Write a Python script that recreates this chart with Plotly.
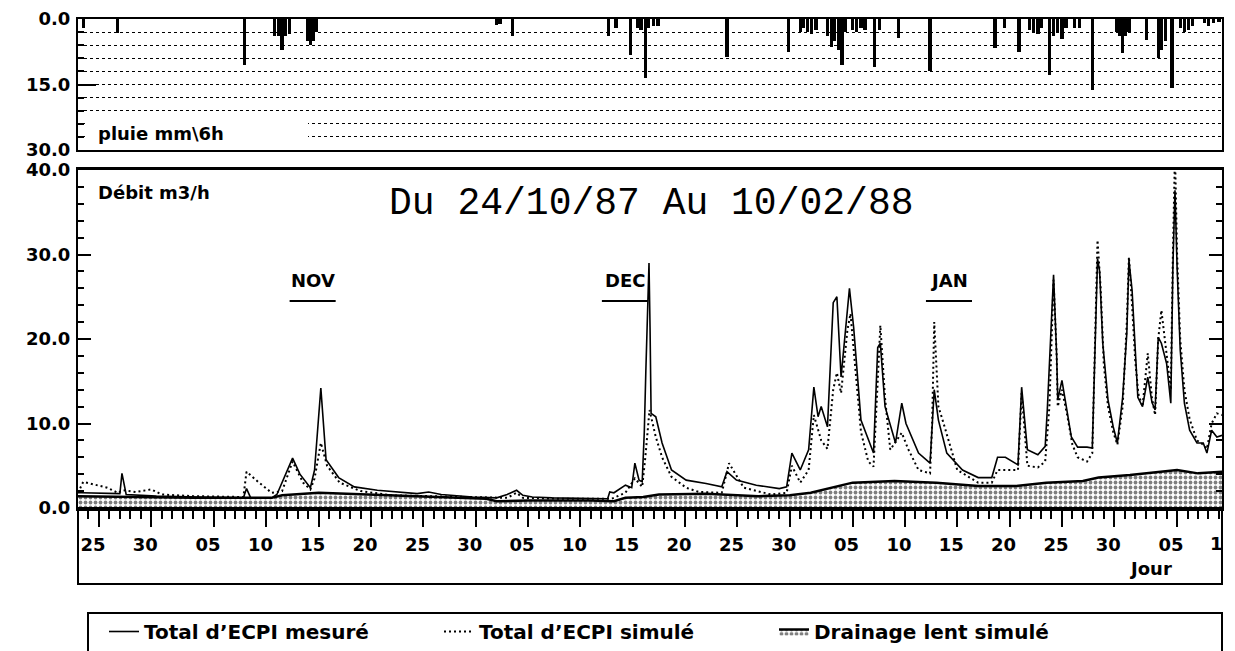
import pandas as pd
import plotly.graph_objects as go

# ---------------- DATA (jours depuis le 24/10/87 00:00) ----------------
DEBUT = pd.Timestamp("1987-10-24")

jours_mesure = [-1.0, -0.7, 3.0, 3.2, 3.6, 6.5, 10.5, 14.8, 15.1, 15.5, 17.5, 18.0, 19.5, 20.2, 21.2, 21.6, 22.2, 22.7,
                23.9, 25.4, 27.6, 29.2, 31.4, 32.5, 33.7, 36.7, 39.0, 40.0, 40.9, 41.5, 42.4, 44.3, 49.6, 49.8, 50.2,
                51.3, 51.9, 52.2, 52.6, 52.9, 53.1, 53.25, 53.55, 53.65, 53.75, 54.2, 54.8, 55.7, 57.1, 59.0, 60.5,
                61.0, 61.9, 63.8, 66.0, 66.7, 67.2, 68.0, 68.8, 69.3, 69.7, 70.0, 70.6, 71.15, 71.5, 71.9, 72.7, 73.1,
                73.8, 75.0, 75.4, 75.65, 76.1, 77.1, 77.7, 78.1, 79.3, 80.4, 80.8, 81.2, 82.0, 83.5, 85.0, 86.3, 86.85,
                87.6, 88.8, 89.15, 89.7, 90.7, 91.4, 91.6, 92.0, 92.2, 92.5, 92.6, 93.0, 93.45, 93.9, 94.5, 95.4, 95.9,
                96.05, 96.25, 96.4, 96.6, 96.9, 97.4, 97.9, 98.3, 98.8, 99.2, 99.4, 99.7, 100.0, 100.25, 100.7, 101.2,
                101.6, 101.9, 102.2, 102.5, 103.0, 103.4, 103.6, 103.8, 104.0, 104.3, 104.7, 105.2, 105.9, 106.5,
                106.85, 107.3, 107.8, 108.3]
debit_mesure = [1.8, 1.8, 1.7, 4.1, 1.6, 1.4, 1.3, 1.2, 2.3, 1.2, 1.2, 1.6, 5.9, 4.0, 2.4, 4.5, 14.2, 5.7, 3.6, 2.5,
                2.1, 1.9, 1.7, 1.9, 1.6, 1.3, 1.2, 1.6, 2.1, 1.5, 1.3, 1.2, 1.1, 1.9, 1.8, 2.7, 2.4, 5.3, 3.3, 3.1,
                9.0, 16.3, 29.0, 21.4, 11.2, 10.8, 7.7, 4.5, 3.3, 2.9, 2.5, 4.3, 3.3, 2.7, 2.3, 2.5, 6.5, 4.5, 6.9,
                14.3, 10.8, 12.0, 9.6, 24.3, 25.0, 15.5, 26.0, 21.4, 10.4, 6.5, 19.0, 19.5, 12.0, 7.7, 12.4, 10.0,
                6.5, 5.3, 14.0, 10.4, 6.5, 4.5, 3.6, 3.6, 6.0, 6.0, 5.1, 14.3, 6.9, 6.3, 7.3, 11.6, 23.4, 27.6, 17.9,
                12.8, 15.1, 12.0, 8.4, 7.2, 7.2, 7.1, 14.8, 24.6, 29.5, 28.0, 19.5, 12.8, 9.6, 7.7, 13.1, 20.7, 29.3,
                25.8, 18.7, 13.1, 12.0, 15.5, 12.5, 11.6, 20.2, 19.5, 17.1, 12.4, 28.5, 37.6, 28.5, 18.7, 12.4, 9.2,
                7.7, 7.7, 6.5, 9.2, 8.4, 8.6]

jours_simule = [-1.0, -0.5, 1.8, 2.8, 3.3, 4.5, 6.0, 7.0, 10.0, 14.8, 15.1, 16.2, 17.5, 18.5, 19.5, 20.5, 21.2, 21.6,
                22.2, 22.8, 24.0, 26.0, 29.0, 35.0, 40.0, 40.9, 41.5, 45.0, 50.0, 51.3, 52.2, 52.9, 53.2, 53.6, 54.2,
                54.8, 55.7, 57.1, 58.3, 60.5, 61.2, 62.6, 65.2, 66.7, 67.2, 68.0, 68.8, 69.3, 70.0, 70.6, 71.15, 71.5,
                71.9, 72.5, 72.8, 73.3, 73.8, 74.5, 75.0, 75.4, 75.65, 76.1, 76.6, 77.7, 78.3, 79.3, 80.4, 80.6, 80.8,
                81.2, 81.6, 83.0, 85.0, 86.3, 86.85, 88.8, 89.15, 89.7, 90.7, 91.4, 91.8, 92.2, 92.5, 92.6, 93.0, 93.5,
                94.0, 94.5, 95.4, 95.9, 96.1, 96.4, 96.7, 97.0, 97.4, 97.9, 98.3, 98.8, 99.2, 99.4, 99.7, 100.0, 100.3,
                100.7, 101.2, 101.6, 101.9, 102.2, 102.5, 103.0, 103.4, 103.6, 103.8, 104.0, 104.3, 104.7, 105.2,
                105.9, 106.5, 106.85, 107.3, 107.8, 108.3]
debit_simule = [1.8, 3.1, 2.4, 1.8, 2.1, 1.9, 2.2, 1.6, 1.4, 1.3, 4.3, 3.1, 1.8, 2.0, 5.5, 3.0, 2.2, 3.5, 7.7, 5.0,
                3.0, 2.0, 1.5, 1.3, 1.2, 1.8, 1.2, 1.1, 1.1, 1.8, 3.5, 2.5, 6.0, 11.6, 8.4, 6.0, 3.7, 2.4, 1.9, 1.8,
                5.3, 2.4, 1.6, 1.8, 5.0, 3.0, 4.5, 11.0, 8.0, 7.0, 14.0, 16.0, 13.6, 21.0, 23.0, 16.0, 9.0, 5.5, 4.9,
                15.0, 21.6, 13.0, 6.9, 8.9, 7.0, 4.5, 4.1, 10.0, 22.0, 12.0, 10.4, 4.5, 3.0, 3.0, 4.5, 4.5, 13.6, 5.0,
                4.8, 5.5, 12.0, 27.0, 18.0, 12.0, 14.0, 11.0, 7.5, 6.0, 5.5, 6.5, 18.0, 31.7, 26.0, 17.0, 12.0, 9.0,
                7.5, 12.0, 22.0, 29.7, 24.0, 17.5, 13.5, 12.0, 18.3, 13.0, 11.0, 20.0, 23.4, 18.0, 14.0, 30.0, 42.0,
                30.0, 20.0, 14.0, 10.5, 8.0, 7.5, 7.0, 10.0, 11.2, 11.0]

jours_drainage = [-1.0, 3.0, 10.0, 17.5, 18.5, 22.0, 27.0, 32.0, 38.0, 39.0, 42.0, 48.0, 50.2, 51.3, 53.0, 54.5,
                  59.0, 64.0, 67.0, 69.0, 71.0, 73.0, 77.0, 81.0, 85.0, 88.5, 91.5, 95.0, 96.5, 99.5, 104.0, 106.0,
                  108.3]
debit_drainage = [1.4, 1.3, 1.2, 1.2, 1.5, 1.8, 1.6, 1.4, 1.1, 0.8, 0.9, 0.9, 0.8, 1.2, 1.3, 1.6, 1.7, 1.4, 1.5,
                  1.8, 2.4, 3.0, 3.2, 3.0, 2.6, 2.6, 3.0, 3.2, 3.6, 3.9, 4.5, 4.1, 4.3]

jours_pluie = [-0.45, 2.8, 14.9, 17.8, 18.2, 18.5, 18.8, 19.2, 20.9, 21.2, 21.5, 21.8, 39.0, 39.3, 40.5, 49.7, 50.4,
               51.8, 52.5, 52.8, 53.2, 53.45, 54.0, 54.4, 61.0, 66.9, 68.0, 68.3, 68.7, 69.1, 69.5, 70.6, 71.0, 71.3,
               71.7, 72.0, 72.3, 73.0, 73.4, 73.8, 74.2, 75.1, 75.6, 77.4, 80.4, 86.6, 87.5, 88.9, 89.9, 90.3, 90.7,
               91.0, 91.8, 92.2, 92.6, 93.0, 93.4, 94.2, 94.7, 95.9, 98.2, 98.5, 98.8, 99.1, 99.4, 101.1, 102.2,
               102.5, 102.9, 103.5, 104.3, 104.7, 105.1, 105.5, 106.6, 107.0, 107.5, 108.0]
pluie = [2.0, 3.2, 10.5, 4.0, 4.0, 7.0, 4.0, 3.5, 5.0, 6.0, 5.0, 3.0, 1.4, 1.2, 4.0, 4.0, 2.0, 8.2, 2.0, 2.5, 13.5,
         2.0, 1.5, 1.5, 8.6, 7.5, 3.0, 2.0, 3.0, 3.5, 2.5, 4.0, 6.3, 5.0, 7.0, 10.5, 3.0, 2.5, 3.0, 2.0, 2.5, 11.0,
         2.5, 4.4, 12.0, 6.7, 2.0, 7.5, 2.5, 3.0, 3.5, 2.0, 12.8, 4.0, 3.0, 4.5, 2.0, 2.0, 2.0, 16.2, 3.0, 4.0, 7.8,
         4.0, 3.0, 4.8, 9.0, 7.0, 5.0, 15.8, 2.0, 3.0, 2.5, 1.5, 1.0, 1.5, 1.0, 0.8]

tick_dates = ["1987-10-25", "1987-10-30", "1987-11-05", "1987-11-10", "1987-11-15", "1987-11-20", "1987-11-25",
              "1987-11-30", "1987-12-05", "1987-12-10", "1987-12-15", "1987-12-20", "1987-12-25", "1987-12-30",
              "1988-01-05", "1988-01-10", "1988-01-15", "1988-01-20", "1988-01-25", "1988-01-30", "1988-02-05"]
tick_labels = ["25", "30", "05", "10", "15", "20", "25", "30", "05", "10", "15", "20", "25", "30",
               "05", "10", "15", "20", "25", "30", "05"]

mois_labels = ["NOV", "DEC", "JAN"]
mois_centres = ["1987-11-14 10:00", "1987-12-14 06:00", "1988-01-14 05:00"]

titre = "Du 24/10/87 Au 10/02/88"
x_debut, x_fin = "1987-10-23 00:00", "1988-02-09 07:00"

assert len(jours_mesure) == len(debit_mesure)
assert len(jours_simule) == len(debit_simule)
assert len(jours_drainage) == len(debit_drainage)
assert len(jours_pluie) == len(pluie)


def dates(j):
    return [DEBUT + pd.Timedelta(days=d) for d in j]


BOLD = dict(family="DejaVu Sans", size=18, color="black", weight="bold")
DAY_MS = 86400000

fig = go.Figure()

fig.add_trace(go.Scatter(
    x=dates(jours_drainage), y=debit_drainage, name="Drainage lent simulé",
    mode="lines", line=dict(color="black", width=2.5), fill="tozeroy",
    fillcolor="white",
    fillpattern=dict(shape=".", fgcolor="black", bgcolor="white", size=5, solidity=0.45),
    xaxis="x", yaxis="y"))
fig.add_trace(go.Scatter(
    x=dates(jours_simule), y=debit_simule, name="Total d’ECPI simulé",
    mode="lines", line=dict(color="black", width=2, dash="2px,3px"),
    xaxis="x", yaxis="y"))
fig.add_trace(go.Scatter(
    x=dates(jours_mesure), y=debit_mesure, name="Total d’ECPI mesuré",
    mode="lines", line=dict(color="black", width=1.6),
    xaxis="x", yaxis="y"))
fig.add_trace(go.Bar(
    x=dates(jours_pluie), y=pluie, width=0.32 * DAY_MS, marker=dict(color="black", line=dict(width=0)),
    showlegend=False, xaxis="x2", yaxis="y2"))

# geometry (paper fractions)
H_PAPER = 565.0
main_dom = [(584 - 508) / H_PAPER, (584 - 170) / H_PAPER]
rain_dom = [(584 - 150) / H_PAPER, 1.0]

fig.update_layout(
    width=1235, height=651,
    margin=dict(l=78, r=13, t=19, b=67, autoexpand=False),
    paper_bgcolor="white", plot_bgcolor="white",
    font=BOLD,
    bargap=0,
    xaxis=dict(
        domain=[0, 1], anchor="y", type="date", range=[x_debut, x_fin],
        tickmode="array", tickvals=tick_dates, ticktext=tick_labels,
        ticks="outside", ticklen=16, tickwidth=2, tickcolor="black",
        minor=dict(ticks="outside", ticklen=8, tickwidth=1.5, tickcolor="black",
                   dtick=DAY_MS, tick0="1987-10-24", showgrid=False),
        showline=True, linewidth=2.5, linecolor="black", mirror=True,
        showgrid=False, zeroline=False, tickfont=BOLD,
        ticklabelshift=-6, ticklabelstandoff=3,
    ),
    yaxis=dict(
        domain=main_dom, anchor="x", range=[0, 40],
        tickmode="linear", tick0=0, dtick=10, tickformat=".1f",
        ticks="inside", ticklen=13, tickwidth=2, tickcolor="black",
        minor=dict(ticks="inside", ticklen=6, tickwidth=1.5, tickcolor="black", dtick=2, showgrid=False),
        showline=True, linewidth=2, linecolor="black", mirror="ticks",
        showgrid=False, zeroline=False, tickfont=BOLD, ticklabelstandoff=2,
    ),
    xaxis2=dict(
        domain=[0, 1], anchor="y2", matches="x", type="date",
        showticklabels=False, ticks="",
        showline=True, linewidth=2, linecolor="black", mirror=True,
        showgrid=False, zeroline=False,
    ),
    yaxis2=dict(
        domain=rain_dom, anchor="x2", range=[30, 0],
        tickmode="array", tickvals=[0, 15, 30], ticktext=["0.0", "15.0", "30.0"],
        ticks="inside", ticklen=18, tickwidth=2, tickcolor="black",
        minor=dict(tickmode="linear", tick0=0, dtick=3, ticks="inside", ticklen=6, tickwidth=1.5,
                   tickcolor="black", showgrid=True, gridcolor="black", gridwidth=1, griddash="dot"),
        showgrid=True, gridcolor="black", gridwidth=1, griddash="dot",
        showline=True, linewidth=2, linecolor="black", mirror=True,
        zeroline=False, tickfont=BOLD, ticklabelstandoff=2,
    ),
    showlegend=True,
    legend=dict(
        orientation="h", x=(104 - 78) / 1144, xanchor="left", y=(584 - 612) / H_PAPER, yanchor="top",
        traceorder="reversed", font=dict(family="DejaVu Sans", size=20, color="black", weight="bold"),
        bgcolor="rgba(0,0,0,0)", borderwidth=0, entrywidth=290, entrywidthmode="pixels",
        itemwidth=30,
    ),
)

shapes = []
# frame of the x-axis zone under the main panel
shapes.append(dict(type="rect", xref="paper", yref="paper", x0=0, x1=1, y0=0, y1=main_dom[0],
                   line=dict(color="black", width=2), fillcolor="rgba(0,0,0,0)"))
# legend frame (open at the bottom of the picture)
shapes.append(dict(type="rect", xref="paper", yref="paper", x0=(88 - 78) / 1144, x1=1,
                   y0=(584 - 665) / H_PAPER, y1=(584 - 613) / H_PAPER,
                   line=dict(color="black", width=2), fillcolor="rgba(0,0,0,0)"))
# white patch behind the rain label (hides the lower gridlines)
shapes.append(dict(type="rect", xref="paper", yref="paper", layer="above",
                   x0=(85 - 78) / 1144, x1=(308 - 78) / 1144,
                   y0=(584 - 147) / H_PAPER, y1=(584 - 119) / H_PAPER,
                   line=dict(width=0), fillcolor="white"))
# month underlines
for c in mois_centres:
    t = pd.Timestamp(c)
    shapes.append(dict(type="line", xref="x", yref="y",
                       x0=t - pd.Timedelta(days=2.2), x1=t + pd.Timedelta(days=2.2), y0=24.5, y1=24.5,
                       line=dict(color="black", width=2)))

annotations = []
annotations.append(dict(text="pluie mm\\6h", xref="paper", yref="paper", x=(96 - 78) / 1144, y=(584 - 133) / H_PAPER,
                        xanchor="left", yanchor="middle", showarrow=False, font=BOLD))
annotations.append(dict(text="Débit m3/h", xref="paper", yref="paper", x=(96 - 78) / 1144, y=(584 - 192) / H_PAPER,
                        xanchor="left", yanchor="middle", showarrow=False, font=BOLD))
annotations.append(dict(text=titre, xref="paper", yref="paper", x=(651 - 78) / 1144, y=(584 - 204) / H_PAPER,
                        xanchor="center", yanchor="middle", showarrow=False,
                        font=dict(family="Liberation Mono", size=38, color="black", weight="normal")))
for lab, c in zip(mois_labels, mois_centres):
    annotations.append(dict(text=lab, xref="x", yref="y", x=pd.Timestamp(c), y=26.9,
                            xanchor="center", yanchor="middle", showarrow=False, font=BOLD))
annotations.append(dict(text="Jour", xref="paper", yref="paper", x=(1150 - 78) / 1144, y=(584 - 568) / H_PAPER,
                        xanchor="center", yanchor="middle", showarrow=False, font=BOLD))
annotations.append(dict(text="1", xref="paper", yref="paper", x=(1216 - 78) / 1144, y=(584 - 543) / H_PAPER,
                        xanchor="center", yanchor="middle", showarrow=False, font=BOLD))

fig.update_layout(shapes=shapes, annotations=annotations)

fig.write_html("out.html", config={"displayModeBar": False},
               post_script="document.body.style.margin='0px';")
